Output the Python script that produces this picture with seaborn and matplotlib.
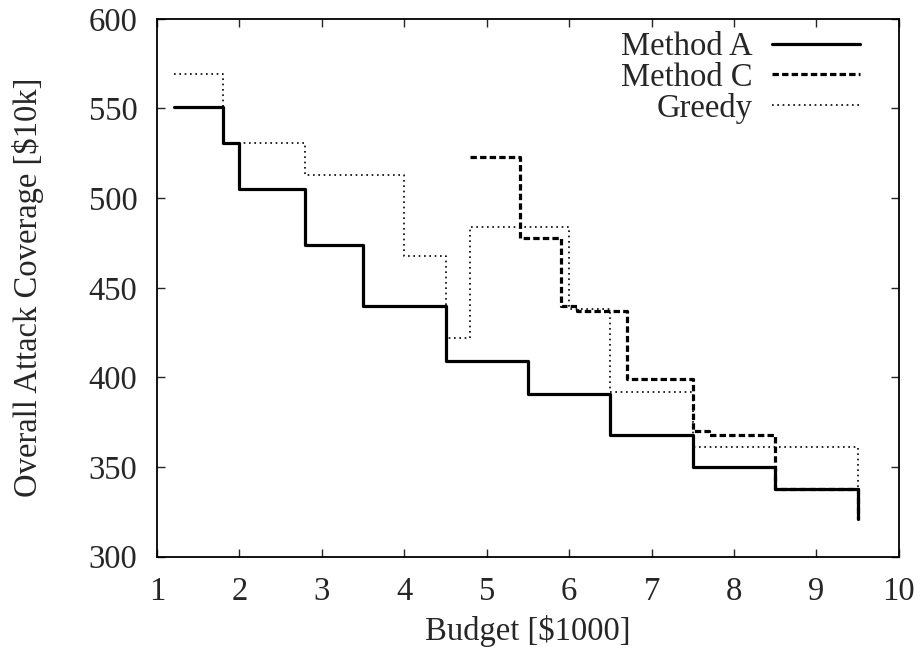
import matplotlib
matplotlib.use("Agg")
import matplotlib.pyplot as plt
import seaborn as sns
import pandas as pd

# step values (steps-post)
method_a_x = [1.2, 1.8, 2.0, 2.8, 3.5, 4.5, 5.5, 6.5, 7.5, 8.5, 9.5]
method_a_y = [551, 531, 505, 474, 440, 409, 391, 368, 350, 338, 321]

method_c_x = [4.8, 5.4, 5.9, 6.1, 6.7, 7.5, 7.7, 8.5, 9.5]
method_c_y = [523, 478, 440, 437, 399, 370, 368, 338, 321]

greedy_x = [1.2, 1.8, 2.8, 4.0, 4.5, 4.8, 6.0, 6.5, 7.5, 9.5]
greedy_y = [569, 531, 513, 468, 422, 484, 438, 392, 361, 338]

x_ticks = [1, 2, 3, 4, 5, 6, 7, 8, 9, 10]
y_ticks = [300, 350, 400, 450, 500, 550, 600]

sns.set_style("ticks")
plt.rcParams['font.family'] = ['Liberation Serif', 'DejaVu Serif']

FS = 23.5

fig = plt.figure(figsize=(9.21, 6.5), dpi=100)
ax = fig.add_axes([0.1705, 0.1435, 0.8055, 0.8275])

series = [
    ("Method A", method_a_x, method_a_y, dict(linewidth=2.3)),
    ("Method C", method_c_x, method_c_y, dict(linewidth=2.3, dashes=(2, 1))),
    ("Greedy", greedy_x, greedy_y, dict(linewidth=1.2, dashes=(1, 2.2))),
]
for name, xs, ys, style in series:
    df = pd.DataFrame({"Budget": xs, "Coverage": ys})
    sns.lineplot(data=df, x="Budget", y="Coverage", ax=ax, color="black",
                 drawstyle="steps-post", sort=False, label=name, **style)

ax.set_xlim(1, 10)
ax.set_ylim(300, 600)
ax.set_xticks(x_ticks)
ax.set_yticks(y_ticks)
ax.tick_params(direction="in", length=6, width=1, labelsize=FS,
               top=True, right=True)
ax.tick_params(axis="x", pad=14)
ax.tick_params(axis="y", pad=14)
for side in ax.spines.values():
    side.set_linewidth(1.3)
    side.set_color("black")

ax.set_xlabel("Budget [\\$1000]", fontsize=FS)
ax.set_ylabel("Overall Attack Coverage [\\$10k]", fontsize=FS)
ax.xaxis.set_label_coords(0.5, -0.108)
ax.yaxis.set_label_coords(-0.152, 0.5)

leg = ax.legend(loc="upper right", frameon=False, fontsize=FS, markerfirst=False,
                handlelength=2.7, handletextpad=0.6, labelspacing=0.0,
                borderaxespad=0.0, bbox_to_anchor=(0.965, 1.0))
for t in leg.get_texts():
    t.set_ha("right")
leg._legend_box.align = "right"

fig.savefig("out.png", dpi=100)
